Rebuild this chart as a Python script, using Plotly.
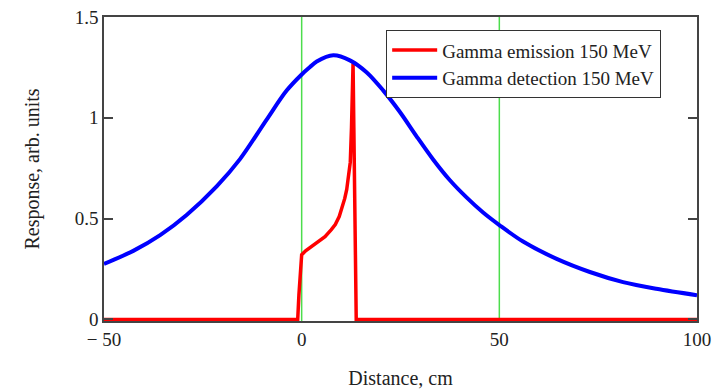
import plotly.graph_objects as go

# Gamma emission profile (red) and detected response (blue), arb. units vs distance in cm
emission_x = [-50, -1.0, -0.7, -0.3, 0.0, 1.0, 2.5, 4.0, 5.9, 7.5, 8.5, 9.5, 10.2, 10.9,
              11.4, 11.9, 12.3, 12.6, 12.8, 13.0, 13.2, 13.4, 13.6, 13.8, 100]
emission_y = [0, 0, 0.12, 0.22, 0.32, 0.34, 0.36, 0.38, 0.41, 0.445, 0.47, 0.51, 0.55, 0.6,
              0.645, 0.71, 0.78, 0.95, 1.15, 1.27, 0.95, 0.63, 0.2, 0, 0]

detection_x = [-50, -42.6, -35.8, -29.1, -21.5, -15.6, -8.9, -3.8, 0, 2.1, 3.8, 8.0, 12.2,
               16.4, 20.6, 24.8, 29.1, 33.3, 37.5, 41.7, 45.9, 50, 56, 64.5, 72.9, 81.3,
               89.7, 100]
detection_y = [0.275, 0.34, 0.418, 0.518, 0.66, 0.795, 0.99, 1.135, 1.215, 1.252, 1.279, 1.31,
               1.285, 1.226, 1.136, 1.03, 0.907, 0.792, 0.69, 0.605, 0.53, 0.468, 0.386,
               0.30, 0.235, 0.185, 0.152, 0.12]

marker_lines_x = [0, 50]

x_tick_vals = [-50, 0, 50, 100]
x_tick_text = ["\u2212 50", "0", "50", "100"]
y_tick_vals = [0, 0.5, 1, 1.5]
y_tick_text = ["0", "0.5", "1", "1.5"]

SERIF = "Liberation Serif, Times New Roman, serif"
FRAME = "#444444"

fig = go.Figure()

fig.add_trace(go.Scatter(
    x=emission_x, y=emission_y, mode="lines",
    name="Gamma emission 150 MeV",
    line=dict(color="#ff0000", width=3.5),
))
fig.add_trace(go.Scatter(
    x=detection_x, y=detection_y, mode="lines",
    name="Gamma detection 150 MeV",
    line=dict(color="#0000ff", width=4, shape="spline", smoothing=0.9),
))

for xv in marker_lines_x:
    fig.add_vline(x=xv, line_color="#4ddd4d", line_width=1.5, layer="below")

fig.update_layout(
    width=714, height=390,
    margin=dict(l=104, r=17, t=17, b=69),
    paper_bgcolor="white", plot_bgcolor="white",
    font=dict(family=SERIF, size=19, color="#222222"),
    legend=dict(
        x=0.4755, y=0.957, xanchor="left", yanchor="top",
        bgcolor="white", bordercolor="#333333", borderwidth=1.2,
        font=dict(family=SERIF, size=19, color="#222222"),
        itemwidth=45, tracegroupgap=0,
    ),
    showlegend=True,
)

fig.update_xaxes(
    range=[-50, 100], automargin=False,
    tickvals=x_tick_vals, ticktext=x_tick_text,
    showgrid=False, zeroline=False,
    showline=True, linecolor=FRAME, linewidth=1.5, mirror=True,
    ticks="", layer="below traces",
    title=dict(text="Distance, cm", font=dict(family=SERIF, size=20), standoff=22),
)
fig.update_yaxes(
    range=[-0.008, 1.5], automargin=False,
    tickvals=y_tick_vals, ticktext=y_tick_text,
    showgrid=False, zeroline=False,
    showline=True, linecolor=FRAME, linewidth=1.5, mirror="ticks",
    ticks="inside", ticklen=9, tickwidth=1.5, tickcolor=FRAME,
    title=dict(text="Response, arb. units", font=dict(family=SERIF, size=20), standoff=30),
)

fig.write_html("out.html")
